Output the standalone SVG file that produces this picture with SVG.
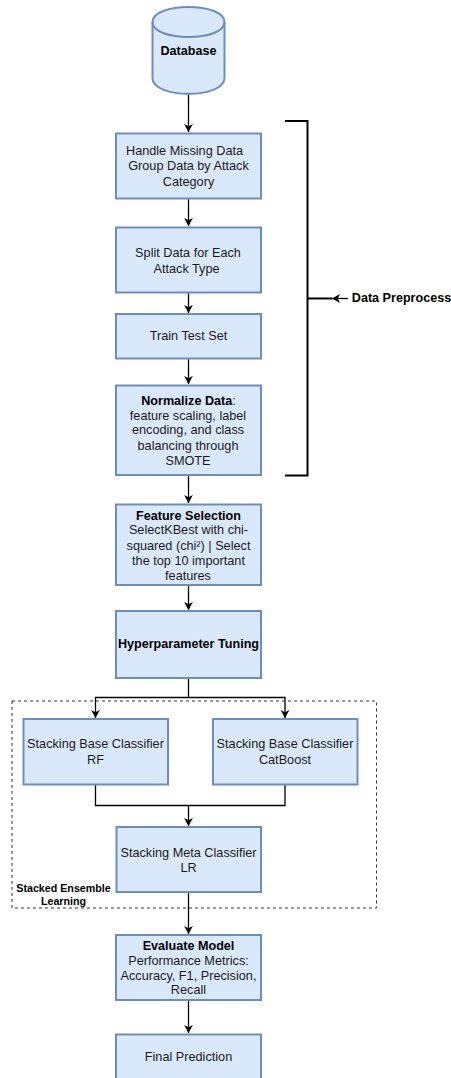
<svg xmlns="http://www.w3.org/2000/svg" width="451" height="1078" viewBox="0 0 451 1078">
<defs>
<style>
text{font-family:"Liberation Sans",Arial,sans-serif;font-size:12.7px;fill:#1a1a1a;text-anchor:middle}
.b{font-weight:bold;fill:#000;font-size:12.6px}
.s{font-size:10.7px}
.box{fill:#dae8fc;stroke:#6c8ebf;stroke-width:2}
.c{fill:none;stroke:#000;stroke-width:1.3}
</style>
<marker id="a" markerUnits="userSpaceOnUse" markerWidth="10" markerHeight="10" refX="8" refY="5" orient="auto"><path d="M0 0.6L8 5L0 9.4L2.2 5Z" fill="#000"/></marker>
</defs>
<rect x="0" y="0" width="451" height="1078" fill="#fff"/>
<g id="connectors">
<path class="c" marker-end="url(#a)" d="M188.500 94V132"/>
<path class="c" marker-end="url(#a)" d="M188.500 198V226"/>
<path class="c" marker-end="url(#a)" d="M188.500 292V313"/>
<path class="c" marker-end="url(#a)" d="M188.500 358V384"/>
<path class="c" marker-end="url(#a)" d="M188.500 475V503"/>
<path class="c" marker-end="url(#a)" d="M188.500 585V610"/>
<path class="c" marker-end="url(#a)" d="M188.500 678V697.500H95.500V718"/>
<path class="c" marker-end="url(#a)" d="M188.500 697.500H285V718"/>
<path class="c" d="M95.500 785V805.500H285V785"/>
<path class="c" marker-end="url(#a)" d="M188.500 805.500V826"/>
<path class="c" marker-end="url(#a)" d="M188.500 892V934"/>
<path class="c" marker-end="url(#a)" d="M188.500 1000V1033"/>
<path fill="none" stroke="#000" stroke-width="2" d="M285 121H307.500V475.500H285"/>
<path fill="none" stroke="#000" stroke-width="2" d="M307.500 298.500H332"/>
<path class="c" marker-end="url(#a)" d="M348 298.500H332"/>
</g>
<g id="ensemble"><rect x="12" y="701" width="364.500" height="207" fill="none" stroke="#333" stroke-width="1" stroke-dasharray="3 3"/>
<text class="b s" x="63.500" y="892">Stacked Ensemble</text><text class="b s" x="63.500" y="905">Learning</text></g>
<g id="database"><path class="box" d="M152.500 22C152.500 2 224.500 2 224.500 22V78C224.500 99 152.500 99 152.500 78Z"/><path fill="none" stroke="#6c8ebf" stroke-width="2" d="M152.500 22C152.500 42 224.500 42 224.500 22"/><text class="b" x="188.500" y="55">Database</text></g>
<g id="handle"><rect class="box" x="116" y="133.500" width="145" height="65"/><text x="184.500" y="155">Handle Missing Data</text><text x="188.500" y="170">Group Data by Attack</text><text x="188.500" y="186">Category</text></g>
<g id="split"><rect class="box" x="116" y="227.500" width="145" height="65"/><text x="188" y="257">Split Data for Each</text><text x="186.500" y="273">Attack Type</text></g>
<g id="traintest"><rect class="box" x="116" y="314" width="145" height="44.500"/><text x="188.500" y="340">Train Test Set</text></g>
<g id="normalize"><rect class="box" x="116" y="385.500" width="145" height="89.500"/><text x="188.500" y="405"><tspan class="b">Normalize Data</tspan>:</text><text x="188" y="420">feature scaling, label</text><text x="188" y="434">encoding, and class</text><text x="188" y="450">balancing through</text><text x="188" y="465">SMOTE</text></g>
<g id="feature"><rect class="box" x="116" y="504.500" width="145" height="80.500"/><text class="b" x="188.500" y="520">Feature Selection</text><text x="188.500" y="534">SelectKBest with chi-</text><text x="188.500" y="550">squared (chi²) | Select</text><text x="188.500" y="565">the top 10 important</text><text x="188" y="580">features</text></g>
<g id="tuning"><rect class="box" x="116" y="611" width="145" height="67"/><text class="b" x="188.500" y="648">Hyperparameter Tuning</text></g>
<g id="rf"><rect class="box" x="23.500" y="719" width="144.500" height="65.500"/><text x="95.500" y="748">Stacking Base Classifier</text><text x="95.500" y="764">RF</text></g>
<g id="catboost"><rect class="box" x="213" y="719" width="144.500" height="65.500"/><text x="285" y="748">Stacking Base Classifier</text><text x="285" y="764">CatBoost</text></g>
<g id="meta"><rect class="box" x="116.500" y="827" width="144.500" height="65"/><text x="188.500" y="857">Stacking Meta Classifier</text><text x="188.500" y="872">LR</text></g>
<g id="evaluate"><rect class="box" x="116" y="935" width="145" height="65"/><text class="b" x="188.500" y="950">Evaluate Model</text><text x="188.500" y="965">Performance Metrics:</text><text x="188.500" y="980">Accuracy, F1, Precision,</text><text x="188.500" y="994">Recall</text></g>
<g id="final"><rect class="box" x="116" y="1034.500" width="145" height="60"/><text x="188.500" y="1061">Final Prediction</text></g>
<g id="preprocess"><text class="b" x="401.500" y="302">Data Preprocess</text></g>
</svg>
